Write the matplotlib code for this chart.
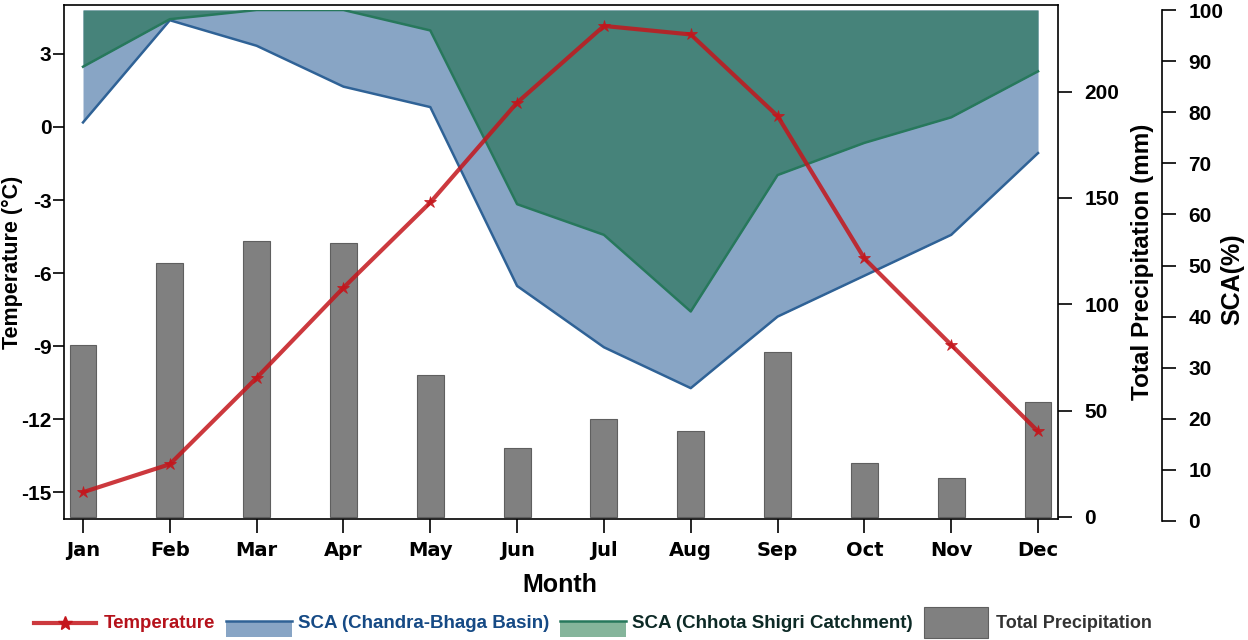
import matplotlib
matplotlib.use("Agg")
from matplotlib import pyplot as plt
from matplotlib.lines import Line2D
from matplotlib.patches import Rectangle

months = ["Jan", "Feb", "Mar", "Apr", "May", "Jun", "Jul", "Aug", "Sep", "Oct", "Nov", "Dec"]
temperature = [-15.0, -13.85, -10.3, -6.6, -3.1, 1.0, 4.15, 3.8, 0.45, -5.4, -8.95, -12.5]
precipitation = [80.6, 119.4, 129.7, 128.8, 66.5, 32.3, 45.9, 40.3, 77.3, 25.3, 18.3, 53.9]
sca_basin = [78, 98, 93, 85, 81, 46, 34, 26, 40, 48, 56, 72]
sca_catchment = [88.9, 98.2, 100, 100, 96, 62, 56, 41, 67.7, 74, 79, 88]

RED = "#c4161c"
BLUE = "#2f6296"
BLUE_FILL = "#88a5c5"
GREEN = "#27785c"
GREEN_FILL = "#46837a"
W, H = 1248, 640

plt.rcParams["font.family"] = "Liberation Sans"
plt.rcParams["font.weight"] = "bold"
plt.rcParams["axes.labelweight"] = "bold"


def make_axes(top, bottom):
    # pixel box from the reference, y measured from the top
    a = fig.add_axes([64 / W, 1 - bottom / H, 994 / W, (bottom - top) / H])
    a.set_xlim(-0.219, 11.23)
    return a


fig = plt.figure(figsize=(W / 100, H / 100), dpi=100)
ax_sca = make_axes(10, 521)
ax_pr = make_axes(5, 519)
ax = make_axes(5, 519)
ax_sca.set_zorder(1)
ax_pr.set_zorder(2)
ax.set_zorder(3)
ax_pr.patch.set_visible(False)
ax.patch.set_visible(False)

x = list(range(len(months)))

# SCA areas hang down from 100 %
ax_sca.fill_between(x, sca_basin, 100, color=BLUE_FILL, lw=0)
ax_sca.plot(x, sca_basin, color=BLUE, lw=1.8)
ax_sca.fill_between(x, sca_catchment, 100, color=GREEN_FILL, lw=0)
ax_sca.plot(x, sca_catchment, color=GREEN, lw=1.8)
ax_sca.set_ylim(0, 100)
ax_sca.set_yticks(range(0, 101, 10))
ax_sca.set_ylabel("SCA(%)", fontsize=18)
ax_sca.yaxis.set_label_position("right")
ax_sca.yaxis.set_label_coords((1220 - 64) / 994, (521 - 279) / 511)
ax_sca.yaxis.tick_right()
ax_sca.spines["right"].set_position(("axes", 1 + 104 / 994))
for s in ["left", "top", "bottom"]:
    ax_sca.spines[s].set_visible(False)
ax_sca.spines["right"].set_linewidth(1.2)
ax_sca.tick_params(axis="y", length=10, width=1.2, labelsize=15, pad=9)
ax_sca.tick_params(axis="x", bottom=False, labelbottom=False)

ax_pr.bar(x, precipitation, width=0.31, color="#808080", edgecolor="#5f5f5f", lw=0.8)
ax_pr.set_ylim(-1, 240.7)
ax_pr.set_yticks(range(0, 201, 50))
ax_pr.set_ylabel("Total Precipitation (mm)", fontsize=17.5)
ax_pr.yaxis.set_label_position("right")
ax_pr.yaxis.set_label_coords((1131 - 64) / 994, 0.5)
ax_pr.yaxis.tick_right()
for s in ["left", "top", "bottom"]:
    ax_pr.spines[s].set_visible(False)
ax_pr.spines["right"].set_linewidth(1.2)
ax_pr.tick_params(axis="y", length=10, width=1.2, labelsize=15, pad=9)
ax_pr.tick_params(axis="x", bottom=False, labelbottom=False)

ax.plot(x, temperature, color=RED, lw=3, alpha=0.85, marker="*", ms=9,
        mfc=RED, mec=RED, mew=0.6)
ax.set_ylim(-16.1, 5.01)
ax.set_yticks(range(-15, 4, 3))
ax.set_yticklabels([str(v) for v in range(-15, 4, 3)])
ax.set_xticks(x)
ax.set_xticklabels(months, fontfamily="DejaVu Sans", fontsize=14, fontweight="bold")
ax.set_ylabel("Temperature (°C)", fontsize=15.5)
ax.yaxis.set_label_coords((23 - 64) / 994, 0.5)
ax.set_xlabel("Month", fontsize=18)
ax.xaxis.set_label_coords((560 - 64) / 994, (519 - 585) / 514)
ax.xaxis.label.set_va("center")
ax.spines["right"].set_visible(False)
ax.spines["top"].set_linewidth(1.2)
ax.spines["left"].set_linewidth(1.2)
ax.spines["bottom"].set_linewidth(1.2)
ax.tick_params(axis="x", length=10, width=1.2, pad=6)
ax.tick_params(axis="y", length=8, width=1.2, labelsize=15, pad=1)


def px(xp, yp):
    return xp / W, 1 - yp / H


def legend_text(xp, label, color, size):
    fig.text(*px(xp, 624), label, color=color, fontsize=size, fontweight="bold", va="center")


# legend row under the chart
fig.add_artist(Line2D([34 / W, 96 / W], [1 - 623 / H] * 2, color=RED, lw=3, alpha=0.85))
fig.add_artist(Line2D([65 / W], [1 - 623 / H], color=RED, marker="*", ms=10, lw=0))
legend_text(104, "Temperature", "#b5121b", 13.4)
for x0, fill, edge in [(226, "#88a5c5", BLUE), (560, "#85b59b", GREEN)]:
    fig.add_artist(Rectangle(px(x0, 637), 66 / W, 15 / H, color=fill, lw=0))
    fig.add_artist(Line2D([x0 / W, (x0 + 66) / W], [1 - 621 / H] * 2, color=edge, lw=1.8))
legend_text(298, "SCA (Chandra-Bhaga Basin)", "#164a85", 13.5)
legend_text(632, "SCA (Chhota Shigri Catchment)", "#0d2a26", 13.5)
fig.add_artist(Rectangle(px(924, 638), 64 / W, 31 / H, facecolor="#808080", edgecolor="#5f5f5f", lw=0.8))
legend_text(996, "Total Precipitation", "#333333", 13)

fig.savefig("out.png", dpi=100)
